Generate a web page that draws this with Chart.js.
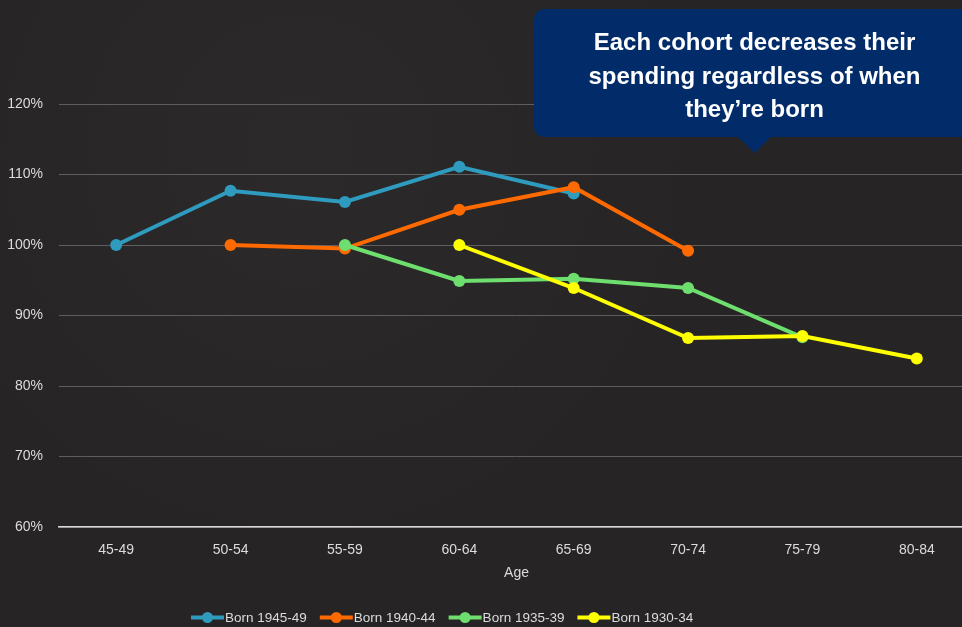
<!DOCTYPE html>
<html>
<head>
<meta charset="utf-8">
<script src="https://cdn.jsdelivr.net/npm/chart.js@4/dist/chart.umd.min.js"></script>
<style>
  html, body { margin: 0; padding: 0; background: #262424; overflow: hidden; width: 962px; height: 627px; }
  #wrap { position: relative; width: 980px; height: 627px; }
  canvas { display: block; }
</style>
</head>
<body>
<div id="wrap"><canvas id="c" width="980" height="627"></canvas></div>
<script>
const categories = ['45-49', '50-54', '55-59', '60-64', '65-69', '70-74', '75-79', '80-84'];
const seriesNames = ['Born 1945-49', 'Born 1940-44', 'Born 1935-39', 'Born 1930-34'];
const born1945_49 = [100, 107.7, 106.1, 111.1, 107.3, null, null, null];
const born1940_44 = [null, 100, 99.5, 105.0, 108.2, 99.2, null, null];
const born1935_39 = [null, null, 100, 94.9, 95.2, 93.9, 86.9, null];
const born1930_34 = [null, null, null, 100, 93.9, 86.8, 87.1, 83.9];
const yTicks = [60, 70, 80, 90, 100, 110, 120];
const axisTitle = 'Age';
const calloutLines = ['Each cohort decreases their', 'spending regardless of when', 'they\u2019re born'];

const colors = ['#2e9bbf', '#ff6a00', '#6ede6e', '#ffff00'];
const seriesData = [born1945_49, born1940_44, born1935_39, born1930_34];

const datasets = seriesData.map((d, i) => ({
  label: seriesNames[i],
  data: d,
  borderColor: colors[i],
  backgroundColor: colors[i],
  pointBackgroundColor: colors[i],
  pointBorderColor: colors[i],
  borderWidth: 4,
  pointRadius: 6,
  pointBorderWidth: 0,
  pointHoverRadius: 6,
  tension: 0,
  spanGaps: false,
  order: seriesData.length - i
}));

const bgPlugin = {
  id: 'bg',
  beforeDraw(chart) {
    const ctx = chart.ctx;
    ctx.save();
    ctx.fillStyle = '#262424';
    ctx.fillRect(0, 0, chart.width, chart.height);
    const g = ctx.createRadialGradient(300, 150, 10, 300, 150, 420);
    g.addColorStop(0, 'rgba(255,255,255,0.025)');
    g.addColorStop(1, 'rgba(255,255,255,0)');
    ctx.fillStyle = g;
    ctx.fillRect(0, 0, chart.width, chart.height);
    ctx.restore();
  }
};

const overlayPlugin = {
  id: 'overlay',
  afterDraw(chart) {
    const ctx = chart.ctx;
    ctx.save();
    // Legend
    ctx.font = '13.5px "Liberation Sans", Arial, sans-serif';
    ctx.textBaseline = 'middle';
    let x = 191;
    const ly = 617.5;
    chart.data.datasets.forEach(ds => {
      ctx.strokeStyle = ds.borderColor;
      ctx.lineWidth = 4;
      ctx.beginPath();
      ctx.moveTo(x, ly);
      ctx.lineTo(x + 33, ly);
      ctx.stroke();
      ctx.fillStyle = ds.borderColor;
      ctx.beginPath();
      ctx.arc(x + 16.5, ly, 5.5, 0, Math.PI * 2);
      ctx.fill();
      ctx.fillStyle = '#dcdcdc';
      ctx.textAlign = 'left';
      ctx.fillText(ds.label, x + 34, ly + 0.5);
      x += 33 + 1 + ctx.measureText(ds.label).width + 13;
    });
    // Callout
    const bx = 534, by = 9, bw = 470, bh = 128, r = 10;
    ctx.fillStyle = '#022c69';
    ctx.beginPath();
    ctx.moveTo(bx + r, by);
    ctx.lineTo(bx + bw - r, by);
    ctx.arcTo(bx + bw, by, bx + bw, by + r, r);
    ctx.lineTo(bx + bw, by + bh - r);
    ctx.arcTo(bx + bw, by + bh, bx + bw - r, by + bh, r);
    ctx.lineTo(771, by + bh);
    ctx.lineTo(754.5, 153);
    ctx.lineTo(738, by + bh);
    ctx.lineTo(bx + r, by + bh);
    ctx.arcTo(bx, by + bh, bx, by + bh - r, r);
    ctx.lineTo(bx, by + r);
    ctx.arcTo(bx, by, bx + r, by, r);
    ctx.closePath();
    ctx.fill();
    ctx.fillStyle = '#ffffff';
    ctx.font = 'bold 24px "Liberation Sans", Arial, sans-serif';
    ctx.textAlign = 'center';
    ctx.textBaseline = 'middle';
    calloutLines.forEach((t, i) => ctx.fillText(t, 754.5, 43.5 + i * 33.5));
    ctx.restore();
  }
};

new Chart(document.getElementById('c'), {
  type: 'line',
  data: { labels: categories, datasets },
  plugins: [bgPlugin, overlayPlugin],
  options: {
    responsive: false,
    animation: false,
    devicePixelRatio: 1,
    layout: { padding: { top: 104, left: 0, right: 0, bottom: 40 } },
    plugins: { legend: { display: false }, tooltip: { enabled: false } },
    scales: {
      x: {
        type: 'category',
        offset: true,
        grid: { display: false, drawTicks: false },
        border: { display: true, color: '#d8d8d8', width: 1.5 },
        ticks: { color: '#dcdcdc', font: { family: '"Liberation Sans", Arial, sans-serif', size: 14 }, padding: 15, maxRotation: 0 },
        title: { display: true, text: axisTitle, color: '#dcdcdc', font: { family: '"Liberation Sans", Arial, sans-serif', size: 14 }, padding: { top: 0, bottom: 5 } },
        afterFit(s) { s.height = 60; }
      },
      y: {
        min: yTicks[0],
        max: yTicks[yTicks.length - 1],
        afterBuildTicks(s) { s.ticks = yTicks.map(v => ({ value: v })); },
        grid: { color: '#5e5e5e', lineWidth: 1, drawTicks: false },
        border: { display: false },
        ticks: { color: '#dcdcdc', font: { family: '"Liberation Sans", Arial, sans-serif', size: 14 }, padding: 16, callback: v => v + '%' },
        afterFit(s) { s.width = 59; }
      }
    }
  }
});
</script>
</body>
</html>
